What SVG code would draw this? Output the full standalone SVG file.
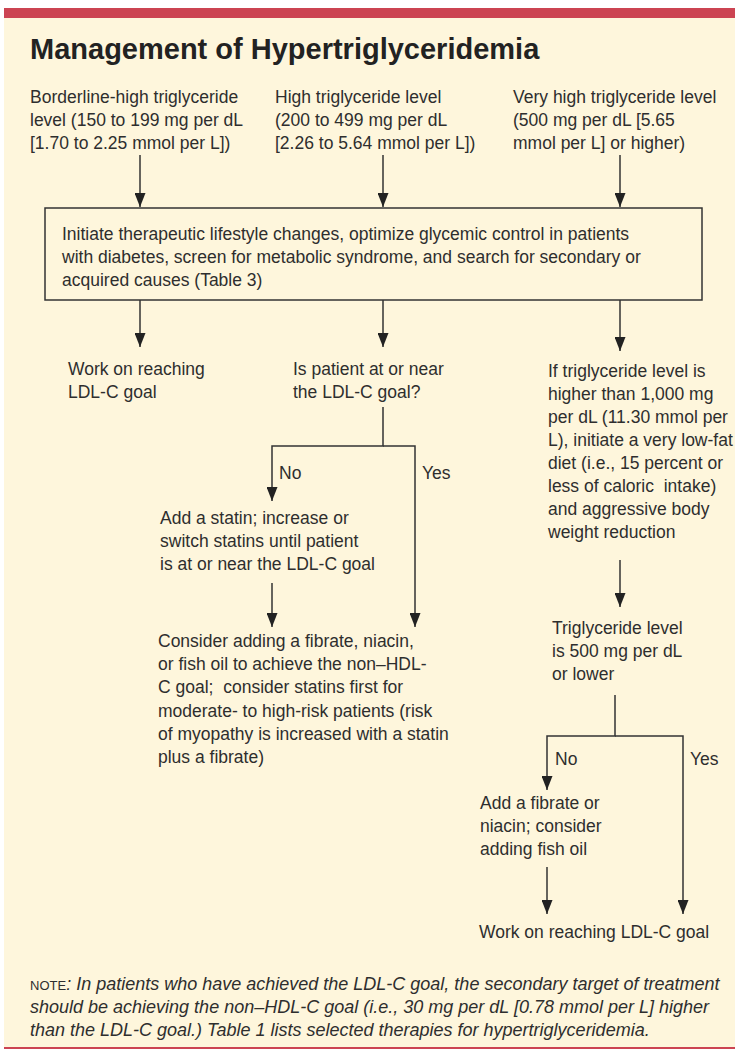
<svg xmlns="http://www.w3.org/2000/svg" width="735" height="1053" viewBox="0 0 735 1053">
<defs>
<style>
.t{font-family:"Liberation Sans",Arial,sans-serif;font-size:17.5px;fill:#2e2e2e}
.ttl{font-family:"Liberation Sans",Arial,sans-serif;font-size:29px;font-weight:bold;fill:#222}
.n{font-family:"Liberation Sans",Arial,sans-serif;font-size:18px;fill:#2e2e2e;font-style:italic}
.sc{font-style:normal;font-size:13px}
.l{stroke:#333;stroke-width:1.5;fill:none}
</style>
<marker id="a" markerWidth="14" markerHeight="11" refX="14" refY="5.5" orient="auto" markerUnits="userSpaceOnUse" viewBox="0 0 14 11">
<path d="M0,0 L14,5.5 L0,11 Z" fill="#222"/>
</marker>
</defs>
<rect x="0" y="0" width="735" height="1053" fill="#ffffff"/>
<rect x="4" y="18" width="731" height="1030" fill="#fef6dc"/>
<rect x="4" y="8" width="731" height="10" fill="#cc4452"/>
<rect x="4" y="1047" width="731" height="2" fill="#cc4452"/>

<text class="ttl" x="30" y="59">Management of Hypertriglyceridemia</text>

<g id="n1"><text class="t" x="30" y="103">Borderline-high triglyceride</text><text class="t" x="30" y="126">level (150 to 199 mg per dL</text><text class="t" x="30" y="149">[1.70 to 2.25 mmol per L])</text></g>
<g id="n2"><text class="t" x="275" y="103">High triglyceride level</text><text class="t" x="275" y="126">(200 to 499 mg per dL</text><text class="t" x="275" y="149">[2.26 to 5.64 mmol per L])</text></g>
<g id="n3"><text class="t" x="513" y="103">Very high triglyceride level</text><text class="t" x="513" y="126">(500 mg per dL [5.65</text><text class="t" x="513" y="149">mmol per L] or higher)</text></g>

<g id="box"><rect x="45" y="208" width="657" height="92" class="l"/>
<text class="t" x="62" y="240">Initiate therapeutic lifestyle changes, optimize glycemic control in patients</text>
<text class="t" x="62" y="263">with diabetes, screen for metabolic syndrome, and search for secondary or</text>
<text class="t" x="62" y="286">acquired causes (Table 3)</text></g>

<g id="n4"><text class="t" x="68" y="375">Work on reaching</text><text class="t" x="68" y="398">LDL-C goal</text></g>
<g id="n5"><text class="t" x="293" y="375">Is patient at or near</text><text class="t" x="293" y="398">the LDL-C goal?</text></g>
<g id="n6"><text class="t" x="548" y="377">If triglyceride level is</text><text class="t" x="548" y="400">higher than 1,000 mg</text><text class="t" x="548" y="423">per dL (11.30 mmol per</text><text class="t" x="548" y="446">L), initiate a very low-fat</text><text class="t" x="548" y="469">diet (i.e., 15 percent or</text><text class="t" x="548" y="492">less of caloric&#160; intake)</text><text class="t" x="548" y="515">and aggressive body</text><text class="t" x="548" y="538">weight reduction</text></g>
<g id="l1"><text class="t" x="279" y="479">No</text><text class="t" x="422" y="479">Yes</text></g>
<g id="n7"><text class="t" x="160" y="524">Add a statin; increase or</text><text class="t" x="160" y="547">switch statins until patient</text><text class="t" x="160" y="570">is at or near the LDL-C goal</text></g>
<g id="n8"><text class="t" x="158" y="647">Consider adding a fibrate, niacin,</text><text class="t" x="158" y="670">or fish oil to achieve the non–HDL-</text><text class="t" x="158" y="693">C goal;&#160; consider statins first for</text><text class="t" x="158" y="717">moderate- to high-risk patients (risk</text><text class="t" x="158" y="740">of myopathy is increased with a statin</text><text class="t" x="158" y="763">plus a fibrate)</text></g>
<g id="n9"><text class="t" x="552" y="634">Triglyceride level</text><text class="t" x="552" y="657">is 500 mg per dL</text><text class="t" x="552" y="680">or lower</text></g>
<g id="l2"><text class="t" x="555" y="765">No</text><text class="t" x="690" y="765">Yes</text></g>
<g id="n10"><text class="t" x="480" y="809">Add a fibrate or</text><text class="t" x="480" y="832">niacin; consider</text><text class="t" x="480" y="855">adding fish oil</text></g>
<g id="n11"><text class="t" x="479" y="938">Work on reaching LDL-C goal</text></g>

<g id="note"><text class="n" x="30" y="990"><tspan class="sc">NOTE</tspan>: In patients who have achieved the LDL-C goal, the secondary target of treatment</text>
<text class="n" x="30" y="1013">should be achieving the non–HDL-C goal (i.e., 30 mg per dL [0.78 mmol per L] higher</text>
<text class="n" x="30" y="1036">than the LDL-C goal.) Table 1 lists selected therapies for hypertriglyceridemia.</text></g>

<g id="connectors" class="l" marker-end="url(#a)">
<path d="M140,155 V207"/>
<path d="M383,155 V207"/>
<path d="M620,155 V207"/>
<path d="M140,300 V347"/>
<path d="M383,300 V347"/>
<path d="M620,300 V351"/>
<path d="M383,407 V446 H272 V501"/>
<path d="M383,446 H415 V627"/>
<path d="M272,583 V627"/>
<path d="M620,560 V607"/>
<path d="M615,695 V736 H547 V790"/>
<path d="M615,736 H683 V914"/>
<path d="M547,867 V914"/>
</g>
</svg>
